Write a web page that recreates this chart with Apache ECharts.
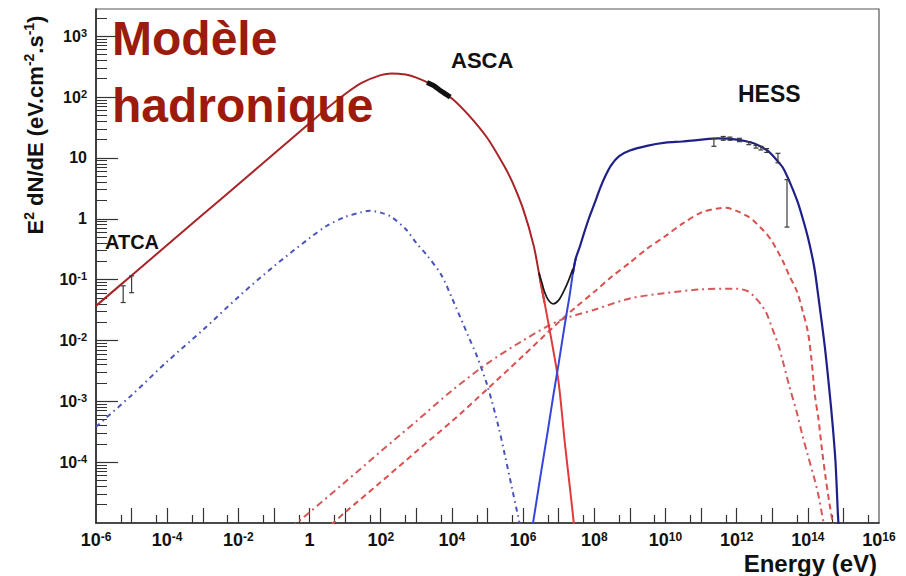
<!DOCTYPE html>
<html><head><meta charset="utf-8">
<script src="https://cdn.jsdelivr.net/npm/echarts@6/dist/echarts.min.js"></script>
<style>html,body{margin:0;padding:0;background:#fff}#c{width:906px;height:576px}</style>
</head><body><div id="c"></div>
<script>
// ---------- axis ticks / labels ----------
const xMin = 1e-6, xMax = 1e16, yMin = 1e-5, yMax = 2800;
const xLabelValues = [1e-6, 1e-4, 1e-2, 1, 1e2, 1e4, 1e6, 1e8, 1e10, 1e12, 1e14, 1e16];
const xMajorTicks = [1e-5, 1e-4, 1e-3, 1e-2, 1e-1, 1, 1e1, 1e2, 1e3, 1e4, 1e5, 1e6, 1e7, 1e8, 1e9, 1e10, 1e11, 1e12, 1e13, 1e14, 1e15];
const xMinorTicks = [5e-6, 5e-5, 5e-4, 5e-3, 5e-2, 5e-1, 5, 50, 500, 5e3, 5e4, 5e5, 5e6, 5e7, 5e8, 5e9, 5e10, 5e11, 5e12, 5e13, 5e14, 5e15];
const yLabelValues = [1e-4, 1e-3, 1e-2, 1e-1, 1, 10, 100, 1000];
const yMajorTicks = [1e-4, 1e-3, 1e-2, 1e-1, 1, 10, 100, 1000];
const yMinorMult = [2, 3, 4, 5, 6, 7, 8, 9];
const yMinorTicks = [];
for (let e = -5; e <= 3; e++) for (const m of yMinorMult) { const v = m * Math.pow(10, e); if (v < yMax) yMinorTicks.push(v); }

// ---------- data: [energy (eV), E^2 dN/dE] ----------
const primarySync = [[1e-6,0.037],[1e-5,0.117],[1e-4,0.37],[1e-3,1.17],[1e-2,3.7],[1e-1,11.7],[1,37],[3,64],[10,112],[30,172],[100,229],[200,245],[500,234],[1e3,209],[3e3,155],[1e4,95],[3e4,50],[1e5,21],[3e5,7.2],[5e5,4.0],[1e6,1.45],[2e6,0.355],[3e6,0.1],[4e6,0.042],[5e6,0.021],[7e6,0.0071],[1e7,0.002],[1.5e7,2e-4],[2e7,4.5e-5],[2.5e7,1.4e-5],[3e7,5e-6]];
const pionDecay = [[1.8e6,8.3e-6],[2e6,1.2e-5],[3e6,5.4e-5],[5e6,3.4e-4],[7e6,1.2e-3],[1e7,4.2e-3],[1.5e7,0.019],[2e7,0.052],[2.5e7,0.125],[3e7,0.22],[4e7,0.36],[5e7,0.55],[7e7,1.0],[1e8,1.74],[1.5e8,3.3],[2e8,4.9],[3e8,7.6],[5e8,10.7],[1e9,13.2],[3e9,15.8],[1e10,17.8],[3e10,18.6],[1e11,20],[3e11,20.9],[1e12,20],[3e12,17.4],[7e12,13.5],[1e13,11.2],[1.5e13,8.5],[2e13,6.9],[3e13,4.2],[5e13,2.0],[7e13,1.07],[1e14,0.5],[1.5e14,0.166],[2e14,0.05],[3e14,7.9e-3],[4e14,1.6e-3],[5e14,4e-4],[6e14,1e-4],[7e14,1.4e-5],[7.6e14,6.3e-6]];
const totalDip = [[2.8e6,0.13],[3.5e6,0.082],[4e6,0.063],[5e6,0.047],[7e6,0.040],[1e7,0.046],[1.5e7,0.071],[2e7,0.105],[2.5e7,0.15]];
const secondarySync = [[1e-6,3.8e-4],[1e-5,1.26e-3],[1e-4,4.5e-3],[1e-3,0.0148],[1e-2,0.052],[0.1,0.166],[1,0.48],[3,0.76],[10,1.07],[30,1.29],[50,1.35],[100,1.26],[200,1.07],[500,0.68],[1e3,0.40],[2e3,0.25],[5e3,0.12],[1e4,0.050],[3e4,0.0112],[5e4,5.6e-3],[1e5,1.78e-3],[2e5,4e-4],[3e5,1.4e-4],[5e5,3.5e-5],[7e5,1.4e-5],[9e5,7e-6]];
const inverseCompton = [[0.3,8.3e-6],[1,1.5e-5],[10,4.7e-5],[100,1.5e-4],[1e3,4.7e-4],[1e4,1.5e-3],[1e5,4.2e-3],[1e6,0.010],[1e7,0.021],[1e8,0.032],[1e9,0.049],[1e10,0.060],[1e11,0.069],[1e12,0.071],[2e12,0.065],[3e12,0.054],[5e12,0.038],[7e12,0.0275],[1e13,0.0158],[1.5e13,8.3e-3],[2e13,4.5e-3],[3e13,1.8e-3],[5e13,6.3e-4],[7e13,2.8e-4],[1e14,1.3e-4],[1.5e14,5.6e-5],[2e14,2.8e-5],[2.5e14,1.4e-5],[3e14,8e-6]];
const bremsstrahlung = [[4,9.3e-6],[10,1.5e-5],[100,4.7e-5],[1e3,1.5e-4],[1e4,4.7e-4],[1e5,1.6e-3],[1e6,5.6e-3],[1e7,0.020],[3e7,0.035],[1e8,0.063],[3e8,0.11],[1e9,0.19],[3e9,0.32],[1e10,0.52],[3e10,0.83],[1e11,1.26],[3e11,1.48],[5e11,1.51],[1e12,1.35],[2e12,1.1],[3e12,0.93],[5e12,0.69],[7e12,0.56],[1e13,0.42],[1.5e13,0.275],[2e13,0.2],[3e13,0.117],[5e13,0.063],[7e13,0.032],[1e14,0.014],[1.26e14,5e-3],[1.58e14,1.26e-3],[2e14,5e-4],[2.5e14,1.6e-4],[3.16e14,5.6e-5],[4e14,2.2e-5],[5e14,1e-5],[5.6e14,6.3e-6]];
const ascaBand = [[2e3,174],[3e3,155],[5e3,125],[9e3,100]];
// error bars: [energy, low, high]
const atcaPoints = [[5.8e-6,0.042,0.079],[1e-5,0.061,0.115]];
const hessPoints = [[2.3e11,15.5,20.8],[4.2e11,19.5,22.5],[6.5e11,19.5,22],[1.2e12,18.5,21],[2.2e12,16.5,18.5],[3.5e12,14.5,16],[4.8e12,13.5,15.5],[7e12,12.3,14.2],[1.45e13,8.3,11.9],[2.6e13,0.73,4.4]];

// where the total curve stops hiding the bare component (colour change only)
const redSplitE = [3e6, 4e6];
const blueSplitE = [2.5e7, 3e7];

// ---------- chart ----------
const FONT = 'Liberation Sans, Arial, sans-serif';
function powLabel(v) {
  const e = Math.round(Math.log10(v));
  if (e === 0) return '{b|1}';
  if (e === 1) return '{b|10}';
  return '{b|10}{s|' + e + '}';
}
const chart = echarts.init(document.getElementById('c'), null, {renderer: 'svg'});

function errorBarSeries(name, data) {
  return {
    type: 'custom', name: name, data: data, z: 20, xAxisIndex: 0, yAxisIndex: 0,
    coordinateSystem: 'cartesian2d', silent: true,
    encode: {x: 0, y: [1, 2]},
    renderItem: function (params, api) {
      const x = api.value(0), lo = api.value(1), hi = api.value(2);
      const p1 = api.coord([x, lo]), p2 = api.coord([x, hi]);
      const cw = 2.5;
      const st = {stroke: '#3a3a3a', lineWidth: 1.2};
      return {type: 'group', children: [
        {type: 'line', shape: {x1: p1[0], y1: p1[1], x2: p2[0], y2: p2[1]}, style: st},
        {type: 'line', shape: {x1: p1[0] - cw, y1: p1[1], x2: p1[0] + cw, y2: p1[1]}, style: st},
        {type: 'line', shape: {x1: p2[0] - cw, y1: p2[1], x2: p2[0] + cw, y2: p2[1]}, style: st}
      ]};
    }
  };
}
function lineSeries(name, data, color, width, type, z) {
  return {type: 'line', name: name, data: data, showSymbol: false, symbol: 'none', smooth: 0.3,
    xAxisIndex: 0, yAxisIndex: 0,
    z: z || 3, silent: true, animation: false,
    lineStyle: {color: color, width: width, type: type || 'solid', cap: 'butt'}};
}

const option = {
  animation: false,
  backgroundColor: '#ffffff',
  grid: {left: 96, right: 27, top: 9, bottom: 53, show: true, borderColor: '#555', borderWidth: 1.2, containLabel: false},
  xAxis: [
    {type: 'log', logBase: 10, min: xMin, max: xMax, position: 'bottom',
     axisLine: {show: true, lineStyle: {color: '#2a2a2a', width: 1.6}},
     axisTick: {show: true, inside: true, length: 15, customValues: xMajorTicks, lineStyle: {color: '#333', width: 1.2}},
     minorTick: {show: false}, splitLine: {show: false},
     axisLabel: {show: true, margin: 8, customValues: xLabelValues, formatter: powLabel, color: '#111', fontFamily: FONT, fontWeight: 'bold', fontSize: 18,
       rich: {b: {fontFamily: FONT, fontWeight: 'bold', fontSize: 18, lineHeight: 18, color: '#111'},
              s: {fontFamily: FONT, fontWeight: 'bold', fontSize: 12, lineHeight: 9, verticalAlign: 'top', color: '#111'}}}},
    {type: 'log', logBase: 10, min: xMin, max: xMax, position: 'bottom',
     axisLine: {show: false}, axisLabel: {show: false}, splitLine: {show: false},
     axisTick: {show: true, inside: true, length: 8, customValues: xMinorTicks, lineStyle: {color: '#333', width: 1.2}}}
  ],
  yAxis: [
    {type: 'log', logBase: 10, min: yMin, max: yMax, position: 'left',
     axisLine: {show: true, lineStyle: {color: '#2a2a2a', width: 1.6}},
     axisTick: {show: true, inside: true, length: 22, customValues: yMajorTicks, lineStyle: {color: '#333', width: 1.2}},
     minorTick: {show: false}, splitLine: {show: false},
     axisLabel: {show: true, margin: 9, customValues: yLabelValues, formatter: powLabel, color: '#111', fontFamily: FONT, fontWeight: 'bold', fontSize: 16,
       rich: {b: {fontFamily: FONT, fontWeight: 'bold', fontSize: 16, lineHeight: 18, color: '#111'},
              s: {fontFamily: FONT, fontWeight: 'bold', fontSize: 11, lineHeight: 9, verticalAlign: 'top', color: '#111'}}}},
    {type: 'log', logBase: 10, min: yMin, max: yMax, position: 'left',
     axisLine: {show: false}, axisLabel: {show: false}, splitLine: {show: false},
     axisTick: {show: true, inside: true, length: 11, customValues: yMinorTicks, lineStyle: {color: '#333', width: 1}}}
  ],
  series: [
    lineSeries('Secondary synchrotron', secondarySync, '#4a54b8', 2, [5, 4, 1.5, 4], 4),
    lineSeries('Bremsstrahlung', bremsstrahlung, '#d9504e', 2, [6, 4], 4),
    lineSeries('Inverse Compton', inverseCompton, '#d4595a', 2, [7, 4, 2, 4], 4),
    lineSeries('Synchrotron (primary e)', primarySync.filter(p => p[0] <= redSplitE[1]), '#a82427', 2, 'solid', 6),
    lineSeries('Synchrotron (primary e), tail', primarySync.filter(p => p[0] >= redSplitE[0]), '#e2393a', 2, 'solid', 6),
    lineSeries('Pion decay, rise', pionDecay.filter(p => p[0] <= blueSplitE[1]), '#3545dc', 2, 'solid', 6),
    lineSeries('Pion decay', pionDecay.filter(p => p[0] >= blueSplitE[0]), '#1e2088', 2.2, 'solid', 6),
    lineSeries('Total', totalDip, '#1a1a1a', 1.7, 'solid', 7),
    lineSeries('ASCA', ascaBand, '#111', 5, 'solid', 8),
    errorBarSeries('ATCA data', atcaPoints),
    errorBarSeries('HESS data', hessPoints)
  ],
  graphic: [
    {type: 'text', z: 100, x: 112, y: 38.5, style: {text: 'Modèle', fill: '#9c1b0b', fontFamily: FONT, fontWeight: 'bold', fontSize: 48, align: 'left', verticalAlign: 'middle'}},
    {type: 'text', z: 100, x: 112, y: 105.5, style: {text: 'hadronique', fill: '#9c1b0b', fontFamily: FONT, fontWeight: 'bold', fontSize: 48, align: 'left', verticalAlign: 'middle'}},
    {type: 'text', z: 100, x: 451, y: 60, style: {text: 'ASCA', fill: '#111', fontFamily: FONT, fontWeight: 'bold', fontSize: 22, align: 'left', verticalAlign: 'middle'}},
    {type: 'text', z: 100, x: 738, y: 94, style: {text: 'HESS', fill: '#111', fontFamily: FONT, fontWeight: 'bold', fontSize: 23, align: 'left', verticalAlign: 'middle'}},
    {type: 'text', z: 100, x: 105, y: 241.5, style: {text: 'ATCA', fill: '#111', fontFamily: FONT, fontWeight: 'bold', fontSize: 20, align: 'left', verticalAlign: 'middle'}},
    {type: 'text', z: 100, x: 877, y: 563.5, style: {text: 'Energy (eV)', fill: '#111', fontFamily: FONT, fontWeight: 'bold', fontSize: 24, align: 'right', verticalAlign: 'middle'}},
    {type: 'text', z: 100, x: 35, y: 125, rotation: Math.PI / 2,
     style: {text: '{b|E}{s|2}{b| dN/dE (eV.cm}{s|-2}{b|.s}{s|-1}{b|)}', align: 'center', verticalAlign: 'middle',
       rich: {b: {fontFamily: FONT, fontWeight: 'bold', fontSize: 22, lineHeight: 26, fill: '#111', color: '#111'},
              s: {fontFamily: FONT, fontWeight: 'bold', fontSize: 14, lineHeight: 12, verticalAlign: 'top', fill: '#111', color: '#111'}}}}
  ]
};
chart.setOption(option);
</script></body></html>
